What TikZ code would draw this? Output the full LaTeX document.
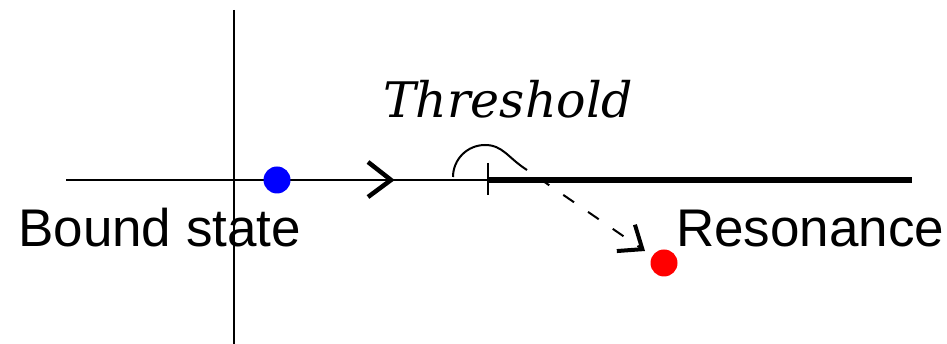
\documentclass[tikz,border=0pt]{standalone}
\usepackage{fontspec}
\setmainfont{Liberation Sans}
\newfontfamily\thrfont{DejaVu Serif}
\usetikzlibrary{arrows.meta}
\tikzset{
  axisline/.style={line width=2pt},
  dotmark/.style={circle,inner sep=0pt,minimum size=27pt},
  lbl/.style={anchor=base west,inner sep=0pt,font=\fontsize{53}{53}\selectfont},
}
\begin{document}
\begin{tikzpicture}[x=1pt,y=1pt]
\useasboundingbox (0,0) rectangle (947,344);
\coordinate (hL) at (66,164);
\coordinate (hR) at (910,164);
\coordinate (vT) at (234,334);
\coordinate (vB) at (234,0);
\coordinate (thr) at (488,164);
\coordinate (thrE) at (912,164);
\coordinate (tickT) at (488,181);
\coordinate (tickB) at (488,149);
\coordinate (chA) at (368,182);
\coordinate (chB) at (391,164);
\coordinate (chC) at (368,147);
\coordinate (arcS) at (453,167);
\coordinate (arcE) at (527,174);
\coordinate (arrE) at (645,93);
\draw[axisline] (hL) -- (hR);
\draw[axisline] (vT) -- (vB);
\draw[line width=6pt] (thr) -- (thrE);
\draw[axisline] (tickT) -- (tickB);
\draw[line width=4.5pt] (chA) -- (chB) -- (chC);
\node[dotmark,fill=blue] (bs) at (277,164) {};
\node[dotmark,fill=red] (res) at (664,81) {};
\draw[line width=2pt] (arcS) arc[start angle=180,end angle=90,radius=32]
  .. controls +(18,0) and (508,186) .. (arcE);
\draw[line width=2pt,dash pattern=on 13pt off 17pt,dash phase=16pt,
  -{Straight Barb[length=20pt,width=32pt,line width=4pt]}] (arcE) -- (arrE);
\node[anchor=base west,inner sep=0pt,font=\thrfont\itshape\fontsize{49}{49}\selectfont] (tt) at (383,226) {Threshold};
\node[lbl] (bl) at (18,97) {Bound state};
\node[lbl] (rl) at (676,97) {Resonance};
\end{tikzpicture}
\end{document}
